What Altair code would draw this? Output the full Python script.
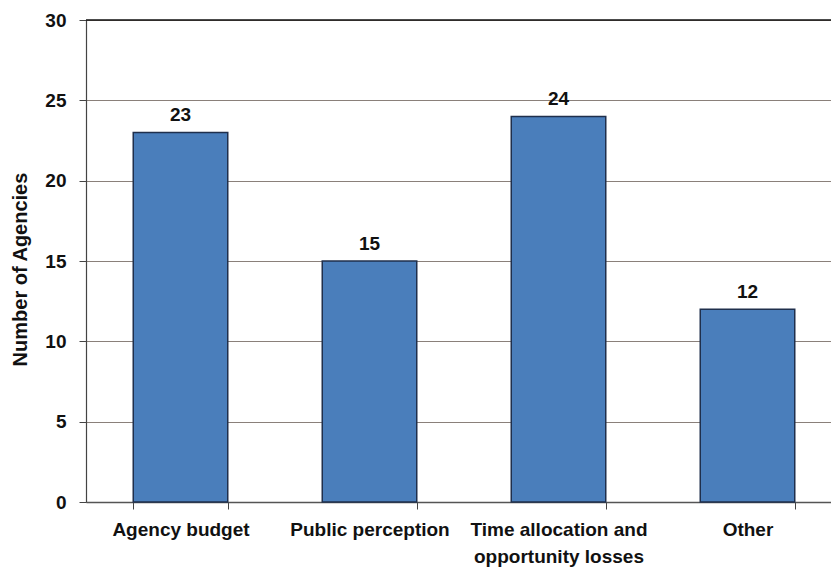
import altair as alt
import pandas as pd

categories = ["Agency budget", "Public perception", "Time allocation and opportunity losses", "Other"]
values = [23, 15, 24, 12]

df = pd.DataFrame({"category": categories, "value": values})

FONT = "Liberation Sans"
W, H = 745, 482

x_enc = alt.X(
    "category:N",
    sort=categories,
    scale=alt.Scale(range=[0, 756], paddingInner=0.5, paddingOuter=0.25),
    axis=alt.Axis(
        title=None,
        labelAngle=0,
        labelFont=FONT,
        labelFontSize=19,
        labelFontWeight="bold",
        labelColor="#111111",
        labelPadding=11,
        labelLineHeight=27,
        labelExpr="datum.label == 'Time allocation and opportunity losses' ? ['Time allocation and', 'opportunity losses'] : datum.label",
        tickBand="extent",
        tickSize=7,
        tickColor="#444444",
        domainColor="#555555",
        domainWidth=1.5,
        grid=False,
    ),
)

y_enc = alt.Y(
    "value:Q",
    scale=alt.Scale(domain=[0, 30], nice=False),
    axis=alt.Axis(
        title="Number of Agencies",
        titleFont=FONT,
        titleFontSize=20,
        titleFontWeight="bold",
        titleColor="#111111",
        titleX=-56,
        titleY=249,
        values=[0, 5, 10, 15, 20, 25, 30],
        labelFont=FONT,
        labelFontSize=19,
        labelFontWeight="bold",
        labelColor="#111111",
        labelPadding=13,
        tickSize=7,
        tickColor="#444444",
        domainColor="#444444",
        domainWidth=1.2,
        gridColor="#8a807a",
        gridWidth=1,
    ),
)

bars = alt.Chart(df).mark_bar(
    color="#4a7ebb", stroke="#1f2f4c", strokeWidth=1.5
).encode(x=x_enc, y=y_enc)

labels = alt.Chart(df).mark_text(
    font=FONT, fontSize=19, fontWeight="bold", color="#111111",
    baseline="alphabetic", dy=-11
).encode(
    x=alt.X("category:N", sort=categories),
    y=alt.Y("value:Q"),
    text=alt.Text("value:Q"),
)

top_line = alt.Chart(pd.DataFrame({"v": [30]})).mark_rule(
    color="#111111", strokeWidth=1.5
).encode(y="v:Q", x=alt.value(0), x2=alt.value(W))

chart = alt.layer(bars, labels, top_line).properties(
    width=W,
    height=H,
    padding={"left": 86, "top": 20, "right": 0, "bottom": 65},
    autosize=alt.AutoSizeParams(type="none"),
).configure_view(stroke=None).configure(background="white")

chart.save("out.html", embed_options={"renderer": "svg", "actions": False})
